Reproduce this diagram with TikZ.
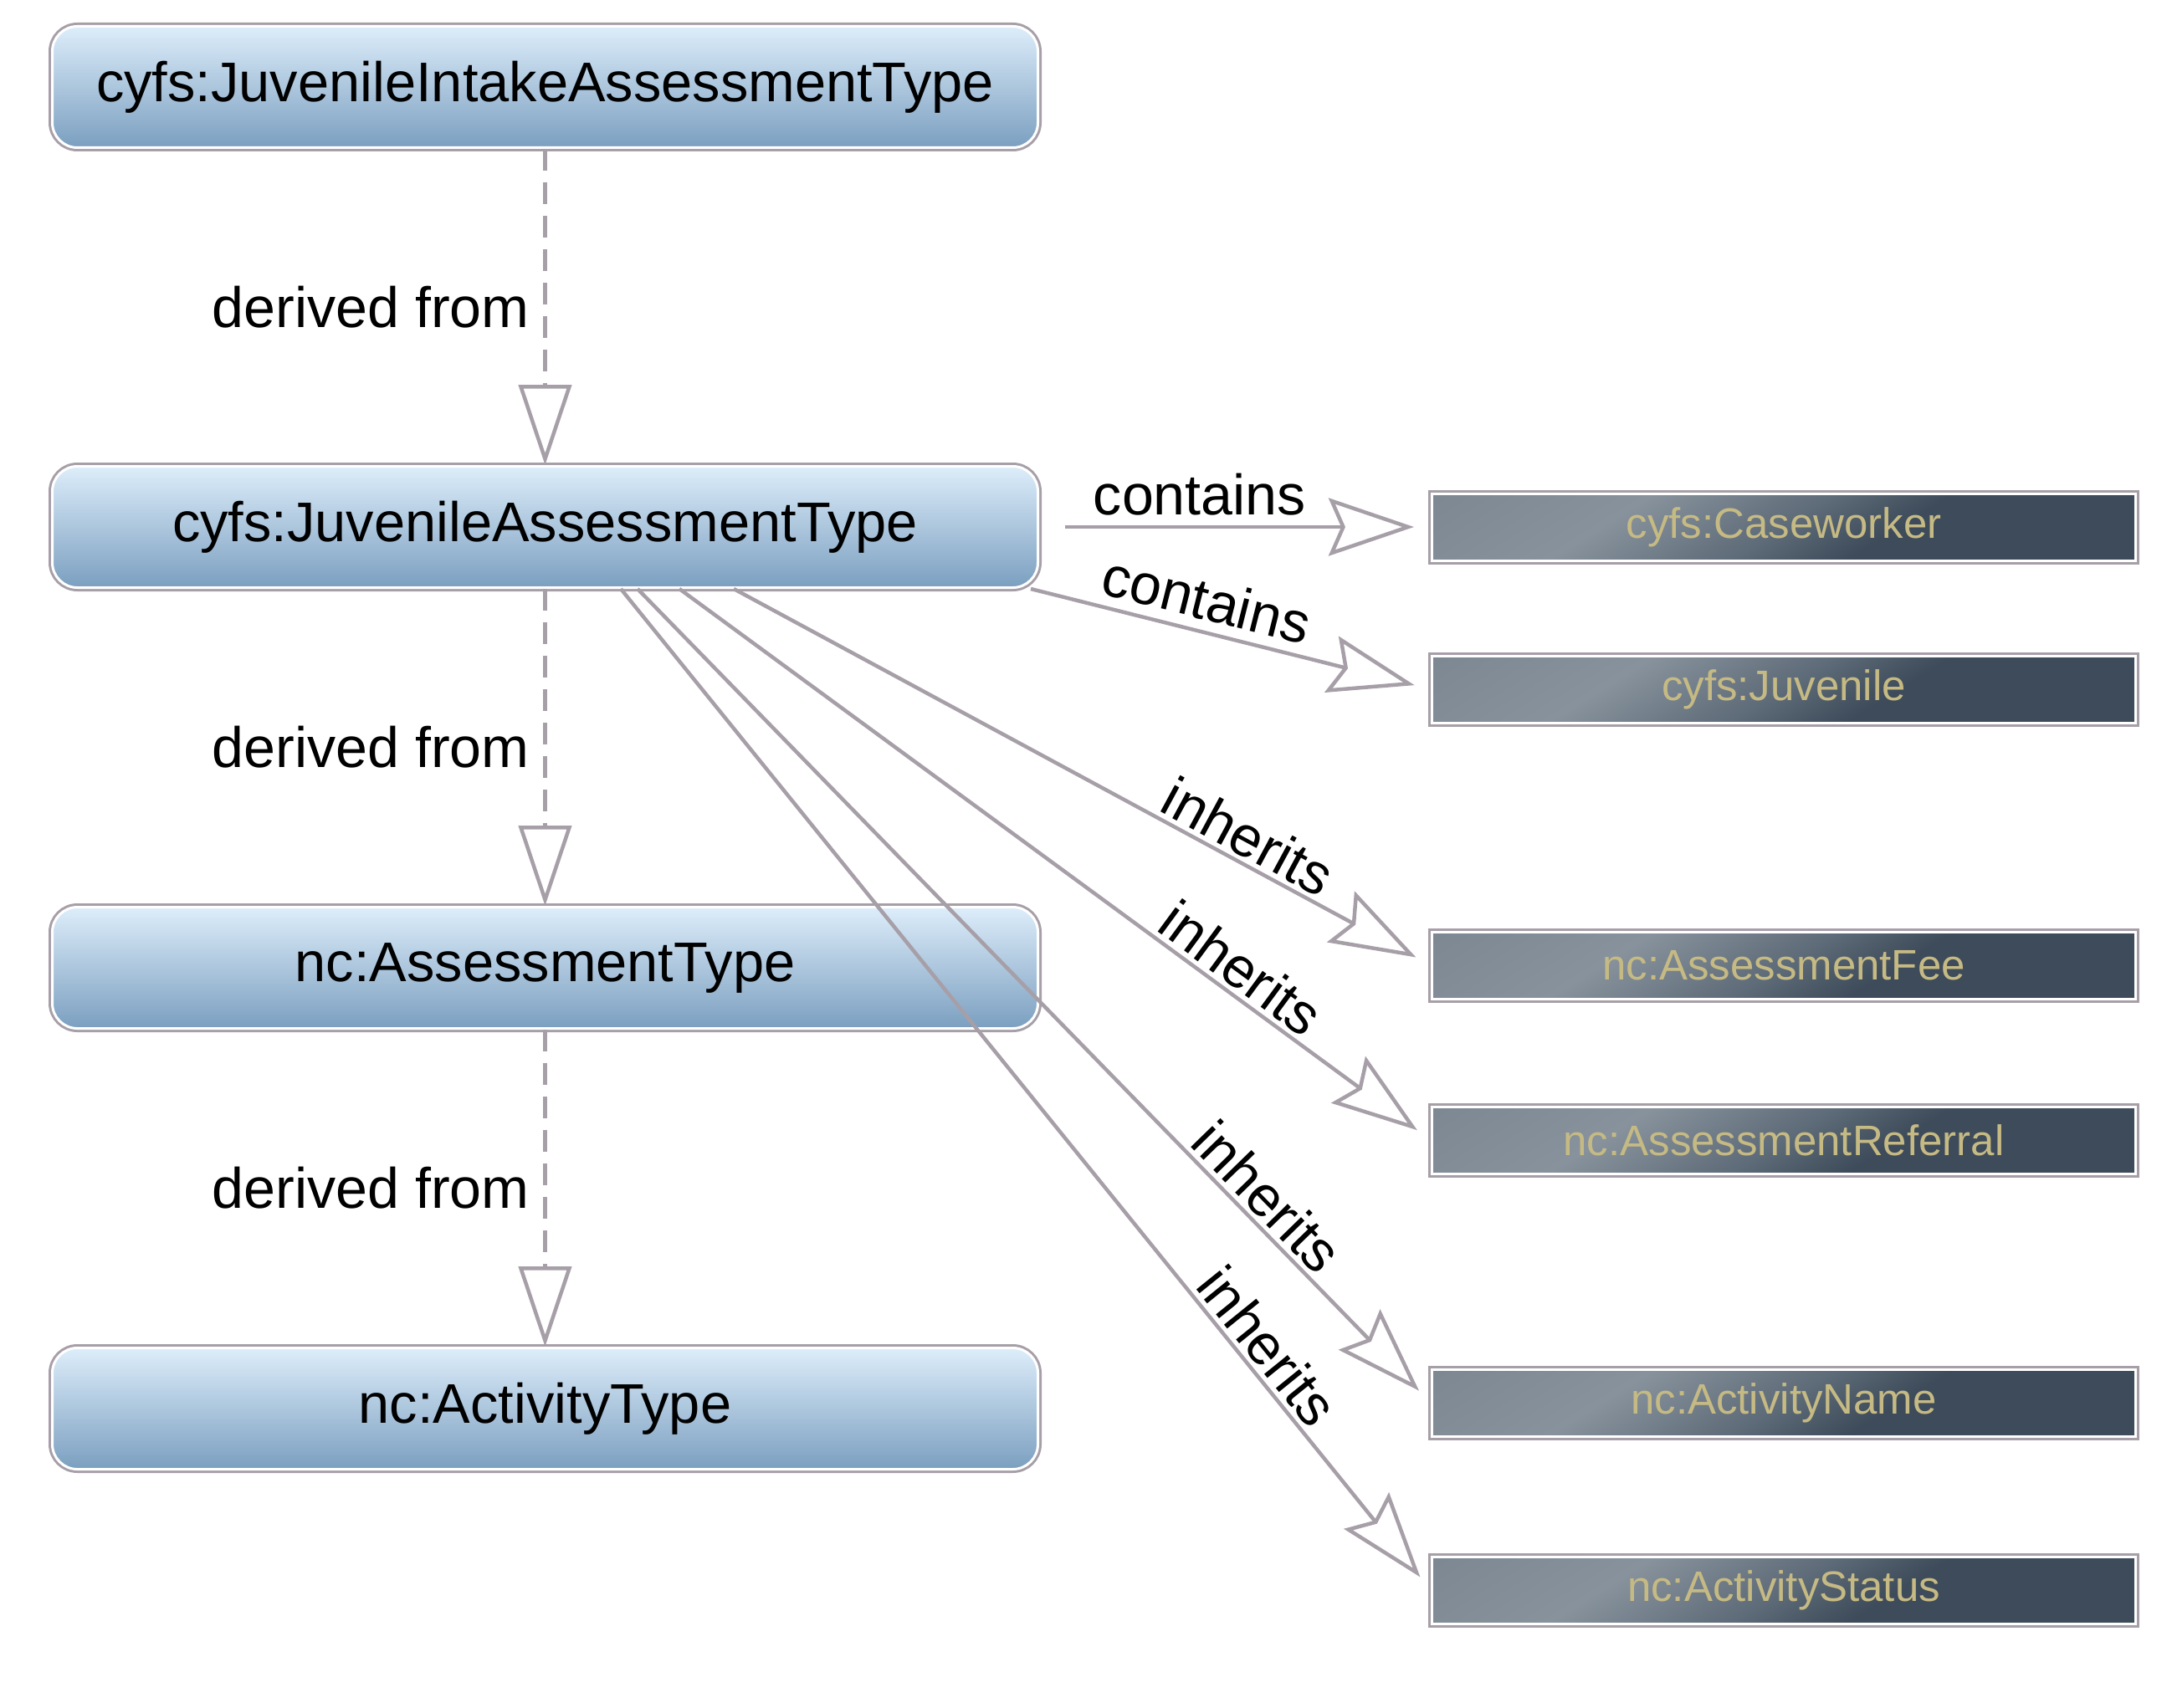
\documentclass[tikz,border=0pt]{standalone}
\usepackage{fontspec}
\setmainfont{Liberation Sans}
\usetikzlibrary{arrows.meta,positioning}
\definecolor{edgegrey}{HTML}{A79FA8}
\definecolor{typetop}{HTML}{DDEDFA}
\definecolor{typebot}{HTML}{7B9FC0}
\definecolor{proplight}{HTML}{87929C}
\definecolor{propedge}{HTML}{7C8791}
\definecolor{propmid}{HTML}{5E6B78}
\definecolor{propdark}{HTML}{3D4B5A}
\definecolor{proptext}{HTML}{C6BA84}
\pgfdeclareverticalshading{propshade}{100bp}{color(0bp)=(propdark); color(43bp)=(propdark);
  color(50bp)=(propmid); color(61bp)=(proplight); color(75bp)=(propedge); color(100bp)=(propedge)}
\tikzset{
  typebox/.style={rounded corners=0.3cm, minimum width=11.78cm, minimum height=1.45cm,
    top color=typetop, bottom color=typebot, draw=white, line width=0.03cm,
    preaction={draw=edgegrey, line width=0.09cm}, font=\fontsize{19}{23}\selectfont, text=black},
  propbox/.style={minimum width=8.41cm, minimum height=0.80cm, draw=white, line width=0.03cm,
    path picture={
      \shade[shading=propshade, transform canvas={rotate around={32:(path picture bounding box.center)}}]
        ([shift={(-4.5,-2.63)}]path picture bounding box.center) rectangle ([shift={(4.5,2.63)}]path picture bounding box.center);
    },
    preaction={draw=edgegrey, line width=0.09cm}, font=\fontsize{14.5}{17}\selectfont, text=proptext},
  derived/.style={draw=edgegrey, line width=0.045cm, dash pattern=on 0.26cm off 0.14cm,
    -{Triangle[open, length=0.96cm, width=0.63cm]}},
  rel/.style={draw=edgegrey, line width=0.045cm,
    -{Stealth[open, length=1.02cm, width=0.69cm, inset=0.15cm]}},
  lbl/.style={font=\fontsize{19.4}{23}\selectfont, text=black}
}
\begin{document}
\begin{tikzpicture}
    \useasboundingbox (0,0) rectangle (25.96,-20.41);
    % type hierarchy
    \node [typebox](intake) at (6.515,-1.04) {cyfs:JuvenileIntakeAssessmentType};
    \node [typebox](juvass) at (6.515,-6.30) {cyfs:JuvenileAssessmentType};
    \node [typebox](assess) at (6.515,-11.57) {nc:AssessmentType};
    \node [typebox](activity) at (6.515,-16.84) {nc:ActivityType};

    % properties
    \node [propbox](caseworker) at (21.32,-6.30) {cyfs:Caseworker};
    \node [propbox](juvenile) at (21.32,-8.24) {cyfs:Juvenile};
    \node [propbox](fee) at (21.32,-11.54) {nc:AssessmentFee};
    \node [propbox](referral) at (21.32,-13.63) {nc:AssessmentReferral};
    \node [propbox](actname) at (21.32,-16.77) {nc:ActivityName};
    \node [propbox](actstatus) at (21.32,-19.01) {nc:ActivityStatus};

    \draw [derived] (intake) -- node[lbl, left, xshift=-0.05cm]{derived from} (juvass);
    \draw [derived] (juvass) -- node[lbl, left, xshift=-0.05cm]{derived from} (assess);
    \draw [derived] (assess) -- node[lbl, left, xshift=-0.05cm]{derived from} (activity);

    \draw [rel, shorten <=0.31cm, shorten >=0.2cm] (juvass.east) -- node[lbl, above, pos=0.41]{contains} (caseworker.west);
    \draw [rel, shorten >=0.2cm] ([xshift=-0.1cm]juvass.south east) -- node[lbl, above, sloped, pos=0.42]{contains} (juvenile.west);
    \foreach \dx/\tgt/\p in {2.255/fee/0.72, 1.605/referral/0.727, 1.105/actname/0.77, 0.905/actstatus/0.773}
    {
        \draw [rel, shorten >=0.2cm] ([xshift=\dx cm]juvass.south) -- node[lbl, above, sloped, inner sep=0.05cm, pos=\p]{inherits} (\tgt.west);
    }
\end{tikzpicture}
\end{document}
